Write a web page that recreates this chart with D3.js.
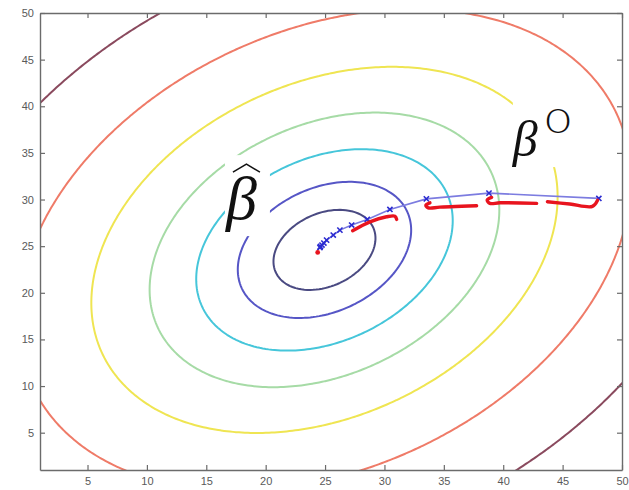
<!DOCTYPE html>
<html><head><meta charset="utf-8">
<script src="https://cdn.jsdelivr.net/npm/d3@7"></script>
<style>body{margin:0;background:#fff} svg{display:block}</style>
</head><body>
<svg id="chart" width="629" height="490"></svg>
<script>
// ---- data ----
const axisDomain = [1, 50];
const xTicks = [5, 10, 15, 20, 25, 30, 35, 40, 45, 50];
const yTicks = [5, 10, 15, 20, 25, 30, 35, 40, 45, 50];

// quadratic bowl: (du^2 + 2*rho*du*dv + dv^2), contour levels
const contourCenter = [24.95, 24.6];
const contourCorrelation = -0.29;
const contourLevels = [16.9, 48.8, 106.8, 198.5, 352.9, 610, 1040];
const contourColors = ["#4a4a82", "#5656c6", "#46c6da", "#a6dba6", "#efe552", "#ef7b68", "#8a4a5e"];

// blue iterate path (x markers)
const pathX = [48.05, 38.80, 33.53, 30.46, 28.55, 27.24, 26.25, 25.69, 25.13, 24.90, 24.74, 24.61, 24.57];
const pathY = [30.12, 30.69, 30.07, 28.94, 27.87, 27.26, 26.72, 26.19, 25.65, 25.33, 25.12, 24.96, 24.85];

// red hand-drawn dashed path
const redStrokes = [
  [[43.72, 29.76], [45.6, 29.52], [47.51, 29.26], [47.94, 29.91]],
  [[39.02, 30.23], [38.65, 29.94], [38.88, 29.59], [39.72, 29.65], [42.81, 29.59]],
  [[33.83, 29.65], [33.49, 29.40], [33.69, 29.11], [34.67, 29.19], [37.76, 29.33]],
  [[27.32, 26.65], [28.78, 27.61], [30.18, 28.15], [30.88, 28.22], [31.03, 27.87]]
];
const redDot = [24.38, 24.33];

// annotation anchors (data units, top-left of the white label boxes)
const betaHatAnchor = [16.57, 34.76];
const betaZeroAnchor = [40.81, 40.66];

// ---- drawing ----
const x = d3.scaleLinear().domain(axisDomain).range([40, 622]);
const y = d3.scaleLinear().domain(axisDomain).range([470, 13]);
const svg = d3.select("#chart");

svg.append("defs").append("clipPath").attr("id", "plot").append("rect")
  .attr("x", x(1)).attr("y", y(50))
  .attr("width", x(50) - x(1)).attr("height", y(1) - y(50));

// contour field on a grid larger than the axes, clipped to the plot box
const gridStart = -16, gridStep = 0.25, gridN = 329;
const values = new Float64Array(gridN * gridN);
const [cu, cv] = contourCenter, rho = contourCorrelation;
for (let j = 0; j < gridN; j++) {
  const dv = gridStart + j * gridStep - cv;
  for (let i = 0; i < gridN; i++) {
    const du = gridStart + i * gridStep - cu;
    values[j * gridN + i] = du * du + 2 * rho * du * dv + dv * dv;
  }
}
const contours = d3.contours().size([gridN, gridN]).thresholds(contourLevels)(values);
const toData = c => gridStart + (c - 0.5) * gridStep;
const ringLine = d3.line().x(p => x(toData(p[0]))).y(p => y(toData(p[1])));
const cg = svg.append("g").attr("clip-path", "url(#plot)");
contours.forEach((c, k) => {
  const d = c.coordinates.flatMap(poly => poly.map(ring => ringLine(ring) + "Z")).join("");
  cg.append("path").attr("d", d).attr("fill", "none")
    .attr("stroke", contourColors[k]).attr("stroke-width", 2);
});

// axes (box with inward ticks)
const axisColor = "#6b6b6b";
function styleAxis(g) {
  g.selectAll("path.domain").attr("stroke", axisColor).attr("stroke-width", 1.4);
  g.selectAll(".tick line").attr("stroke", axisColor).attr("stroke-width", 1.2);
  g.selectAll("text").attr("fill", "#5a5a5a")
    .attr("font-family", "'Liberation Sans', Arial, sans-serif").attr("font-size", 11);
}
svg.append("g").attr("transform", `translate(0,${y(1)})`)
  .call(d3.axisBottom(x).tickValues(xTicks).tickSizeInner(-5).tickSizeOuter(0).tickPadding(7))
  .call(styleAxis);
svg.append("g").attr("transform", `translate(${x(1)},0)`)
  .call(d3.axisLeft(y).tickValues(yTicks).tickSizeInner(-5).tickSizeOuter(0).tickPadding(6))
  .call(styleAxis);
svg.append("g").attr("transform", `translate(0,${y(50)})`)
  .call(d3.axisTop(x).tickValues(xTicks).tickSizeInner(-5).tickSizeOuter(0).tickFormat(() => ""))
  .call(styleAxis);
svg.append("g").attr("transform", `translate(${x(50)},0)`)
  .call(d3.axisRight(y).tickValues(yTicks).tickSizeInner(-5).tickSizeOuter(0).tickFormat(() => ""))
  .call(styleAxis);

// labels
const bh = svg.append("g").attr("transform", `translate(${x(betaHatAnchor[0])},${y(betaHatAnchor[1])})`);
bh.append("rect").attr("width", 45).attr("height", 81).attr("fill", "#fff");
bh.append("text").attr("x", 1).attr("y", 64).text("β")
  .attr("font-family", "'Liberation Serif', serif").attr("font-style", "italic")
  .attr("font-size", 62).attr("fill", "#111");
bh.append("path").attr("d", "M8,17 L21.5,9 L35,17").attr("fill", "none")
  .attr("stroke", "#111").attr("stroke-width", 1.5);

const bz = svg.append("g").attr("transform", `translate(${x(betaZeroAnchor[0])},${y(betaZeroAnchor[1])})`);
bz.append("rect").attr("width", 68).attr("height", 67).attr("fill", "#fff");
bz.append("text").attr("x", 0).attr("y", 56).text("β")
  .attr("font-family", "'Liberation Serif', serif").attr("font-style", "italic")
  .attr("font-size", 50).attr("fill", "#111");
bz.append("text").attr("transform", "translate(32.5,33.3) scale(1.3,1)").text("0")
  .attr("font-family", "Lato, 'DejaVu Sans', sans-serif").attr("font-weight", 300)
  .attr("font-size", 34).attr("fill", "#111");

// blue path with x markers
const pts = pathX.map((u, i) => [u, pathY[i]]);
const pg = svg.append("g").attr("clip-path", "url(#plot)");
pg.append("path").attr("d", d3.line().x(p => x(p[0])).y(p => y(p[1]))(pts))
  .attr("fill", "none").attr("stroke", "#7c7ce0").attr("stroke-width", 1.6);
pg.selectAll("path.mk").data(pts).join("path").attr("class", "mk")
  .attr("d", p => { const a = x(p[0]), b = y(p[1]), s = 2.6;
    return `M${a - s},${b - s}L${a + s},${b + s}M${a - s},${b + s}L${a + s},${b - s}`; })
  .attr("stroke", "#2b2bd0").attr("stroke-width", 1.6).attr("fill", "none");

// red dashed path
const redLine = d3.line().x(p => x(p[0])).y(p => y(p[1])).curve(d3.curveCatmullRom);
pg.selectAll("path.red").data(redStrokes).join("path").attr("class", "red")
  .attr("d", redLine).attr("fill", "none").attr("stroke", "#e8141e")
  .attr("stroke-width", 3.4).attr("stroke-linecap", "round").attr("stroke-linejoin", "round");
pg.append("circle").attr("cx", x(redDot[0])).attr("cy", y(redDot[1])).attr("r", 2.4).attr("fill", "#e8141e");
</script>
</body></html>
